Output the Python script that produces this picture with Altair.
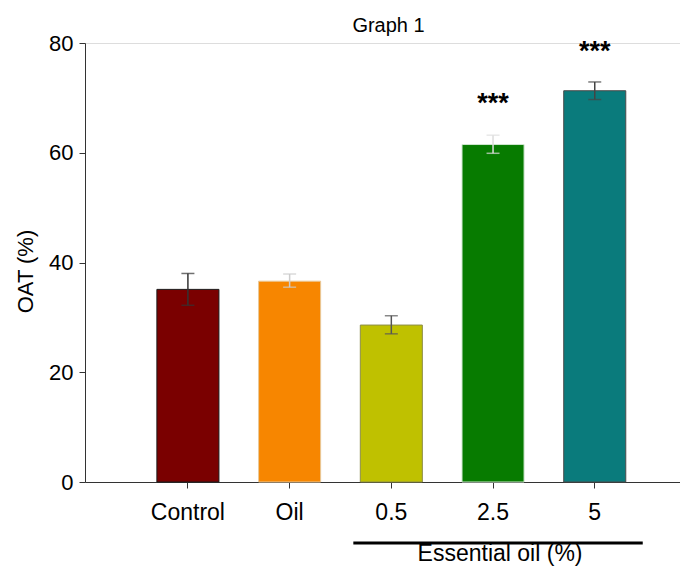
import altair as alt
import pandas as pd

categories = ["Control", "Oil", "0.5", "2.5", "5"]
means = [35.1, 36.6, 28.6, 61.5, 71.3]
err_low = [32.2, 35.5, 27.0, 59.9, 69.7]
err_high = [38.0, 37.9, 30.3, 63.2, 72.9]
star_labels = ["", "", "", "***", "***"]
star_values = [None, None, None, 68.8, 78.3]
y_ticks = [0, 20, 40, 60, 80]

fill_colors = ["#7a0000", "#f78600", "#bfc100", "#077b00", "#0a7b7c"]
stroke_colors = ["#1a1a1a", "#e8c898", "#8c8c4a", "#cfe6cf", "#4a4a4a"]
err_colors = ["#333333", "#cccccc", "#555555", "#dddddd", "#444444"]

FONT = "Liberation Sans, Arial, sans-serif"

df = pd.DataFrame({
    "cat": categories,
    "mean": means,
    "lo": err_low,
    "hi": err_high,
    "star": star_labels,
    "star_y": star_values,
})

x_enc = alt.X(
    "cat:N",
    sort=categories,
    scale=alt.Scale(paddingInner=0.39, paddingOuter=0.62, align=0.57),
    axis=alt.Axis(
        title=None, labelAngle=0, labelFontSize=23, labelFont=FONT,
        labelColor="black", tickSize=6, tickColor="#333", domainColor="#333",
        labelPadding=13, grid=False,
    ),
)
y_scale = alt.Scale(domain=[0, 80], nice=False, zero=True)
y_axis = alt.Axis(
    title="OAT (%)", values=y_ticks, tickSize=6, tickColor="#333",
    domainColor="#333", labelFontSize=22, labelFont=FONT, labelColor="black",
    labelPadding=6, grid=False, titleFontSize=22, titleFont=FONT,
    titleFontWeight="normal", titleColor="black", titleAngle=-90,
    titleX=-60, titleY=228, titleAlign="center", titleBaseline="middle",
)

base = alt.Chart(df)

bars = base.mark_bar(strokeWidth=1).encode(
    x=x_enc,
    y=alt.Y("mean:Q", scale=y_scale, axis=y_axis),
    fill=alt.Fill("cat:N", scale=alt.Scale(domain=categories, range=fill_colors), legend=None),
    stroke=alt.Stroke("cat:N", scale=alt.Scale(domain=categories, range=stroke_colors), legend=None),
)

err_color = alt.Color("cat:N", scale=alt.Scale(domain=categories, range=err_colors), legend=None)

err_rule = base.mark_rule(strokeWidth=1.5).encode(
    x=alt.X("cat:N", sort=categories),
    y=alt.Y("lo:Q"),
    y2="hi:Q",
    color=err_color,
)
cap_lo = base.mark_tick(size=13, thickness=1.5).encode(
    x=alt.X("cat:N", sort=categories), y="lo:Q", color=err_color
)
cap_hi = base.mark_tick(size=13, thickness=1.5).encode(
    x=alt.X("cat:N", sort=categories), y="hi:Q", color=err_color
)

stars = base.transform_filter("datum.star != ''").mark_text(
    fontSize=27, font=FONT, fontWeight="bold", color="black", baseline="middle"
).encode(
    x=alt.X("cat:N", sort=categories),
    y="star_y:Q",
    text="star:N",
)

anno_df = pd.DataFrame({"label": ["Essential oil (%)"]})
bracket = alt.Chart(anno_df).mark_rule(
    strokeWidth=3, color="black", xOffset=-38, x2Offset=48
).encode(
    x=alt.datum("0.5"), x2=alt.datum("5"), y=alt.value(500)
)
bracket_text = alt.Chart(anno_df).mark_text(
    fontSize=23, font=FONT, color="black", baseline="alphabetic", dx=7
).encode(
    x=alt.datum("2.5"), y=alt.value(518), text="label:N"
)

chart = alt.layer(bars, err_rule, cap_lo, cap_hi, stars, bracket, bracket_text).properties(
    width=595,
    height=439,
    title=alt.TitleParams("Graph 1", fontSize=20, font=FONT, fontWeight="normal",
                          color="black", offset=8, dx=6, dy=12),
    autosize=alt.AutoSizeParams(type="none"),
    padding={"left": 77, "top": 35, "right": 0, "bottom": 84},
).configure_view(stroke=None).configure(background="white")

chart.save("out.html", embed_options={"renderer": "svg", "actions": False})
